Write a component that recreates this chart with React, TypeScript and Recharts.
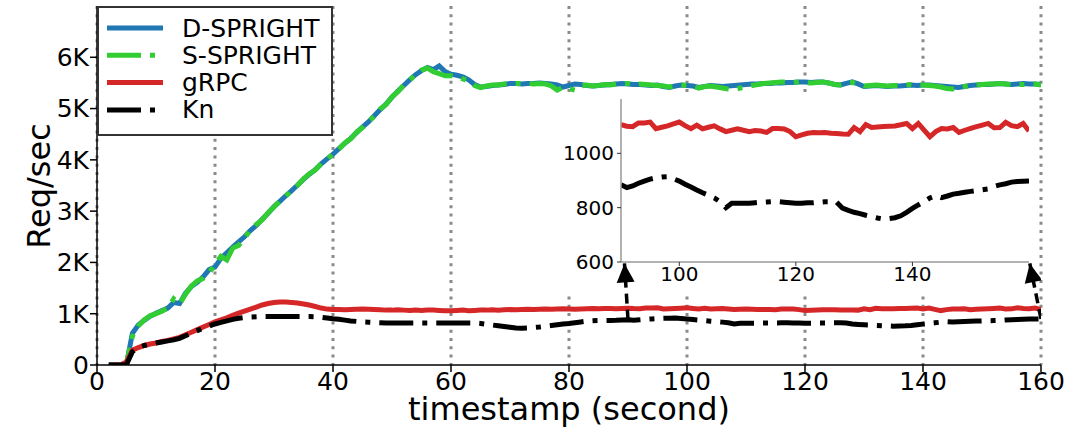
import { CartesianGrid, Legend, Line, LineChart, XAxis, YAxis } from "recharts";

const font = "'DejaVu Sans', sans-serif";
const dashDot = "34 9 5 9";

// request rate per second, t = 0..160
const dSpright = [
  null, null, 0, 0, 0, 20, 620, 780, 870, 950,
  1010, 1060, 1110, 1220, 1200, 1400, 1530, 1610, 1720, 1860,
  1910, 2080, 2190, 2300, 2400, 2500, 2620, 2720, 2840, 2960,
  3090, 3190, 3300, 3400, 3510, 3620, 3720, 3810, 3920, 4020,
  4110, 4220, 4320, 4420, 4530, 4640, 4740, 4860, 4980, 5090,
  5220, 5340, 5450, 5560, 5660, 5740, 5800, 5760, 5830, 5720,
  5670, 5650, 5620, 5560, 5470, 5420, 5430, 5450, 5460, 5470,
  5490, 5490, 5480, 5490, 5490, 5500, 5490, 5480, 5460, 5420,
  5450, 5480, 5470, 5450, 5440, 5450, 5460, 5470, 5480, 5490,
  5480, 5470, 5470, 5460, 5450, 5460, 5430, 5410, 5440, 5460,
  5450, 5440, 5410, 5430, 5450, 5440, 5430, 5440, 5450, 5460,
  5470, 5480, 5480, 5490, 5490, 5500, 5500, 5510, 5510, 5520,
  5520, 5510, 5520, 5520, 5500, 5470, 5460, 5490, 5520, 5480,
  5430, 5440, 5450, 5440, 5430, 5440, 5440, 5450, 5460, 5450,
  5460, 5460, 5450, 5440, 5430, 5420, 5410, 5430, 5450, 5460,
  5470, 5470, 5480, 5490, 5480, 5470, 5480, 5490, 5480, 5480, 5470,
];

const sSpright = [
  null, null, 0, 0, 0, 30, 560, 760, 880, 960,
  1000, 1050, 1110, 1290, 1190, 1380, 1540, 1640, 1690, 1800,
  1960, 2120, 2050, 2280, 2330, 2470, 2640, 2740, 2830, 2970,
  3080, 3200, 3290, 3410, 3500, 3630, 3730, 3800, 3930, 4010,
  4120, 4210, 4330, 4410, 4540, 4630, 4750, 4850, 4990, 5080,
  5230, 5330, 5460, 5550, 5670, 5750, 5790, 5720, 5680, 5640,
  5640, 5620, 5580, 5530, 5450, 5410, 5440, 5460, 5460, 5480,
  5490, 5490, 5490, 5490, 5480, 5490, 5480, 5440, 5360, 5420,
  5390, 5360, 5440, 5460, 5440, 5450, 5470, 5460, 5480, 5490,
  5490, 5460, 5480, 5470, 5460, 5450, 5440, 5420, 5440, 5460,
  5450, 5430, 5400, 5430, 5440, 5420, 5400, 5380, 5370, 5400,
  5420, 5450, 5470, 5490, 5500, 5510, 5520, 5520, 5510, 5520,
  5510, 5500, 5510, 5520, 5500, 5470, 5460, 5490, 5510, 5480,
  5440, 5450, 5460, 5450, 5440, 5450, 5450, 5460, 5470, 5460,
  5460, 5450, 5440, 5420, 5390, 5380, 5400, 5430, 5450, 5460,
  5470, 5480, 5480, 5490, 5480, 5460, 5470, 5470, 5480, 5480, 5460,
];

const grpc = [
  null, null, 0, 0, 0, 60, 290, 340, 380, 410,
  430, 460, 480, 510, 540, 590, 640, 690, 740, 790,
  840, 880, 920, 970, 1010, 1050, 1090, 1130, 1170, 1200,
  1220, 1230, 1230, 1220, 1210, 1190, 1170, 1140, 1110, 1090,
  1080, 1080, 1075, 1080, 1085, 1090, 1085, 1080, 1075, 1070,
  1070, 1075, 1070, 1065, 1070, 1065, 1070, 1070, 1065, 1060,
  1060, 1065, 1070, 1060, 1065, 1070, 1070, 1075, 1070, 1075,
  1080, 1075, 1080, 1085, 1080, 1085, 1090, 1085, 1090, 1095,
  1090, 1085, 1090, 1095, 1100, 1095, 1100, 1100, 1095, 1100,
  1106, 1100, 1098, 1112, 1112, 1115, 1091, 1096, 1101, 1108,
  1115, 1102, 1091, 1104, 1090, 1096, 1101, 1090, 1080, 1085,
  1090, 1085, 1080, 1084, 1082, 1077, 1091, 1091, 1090, 1080,
  1061, 1068, 1074, 1077, 1076, 1077, 1074, 1073, 1071, 1070,
  1095, 1080, 1106, 1095, 1097, 1099, 1100, 1101, 1105, 1110,
  1091, 1110, 1085, 1061, 1080, 1091, 1090, 1095, 1077, 1085,
  1092, 1098, 1104, 1110, 1094, 1095, 1114, 1102, 1098, 1110, 1082,
];

const kn = [
  null, null, 0, 0, 0, 10, 260, 340, 380, 410,
  430, 450, 470, 490, 520, 570, 620, 670, 720, 760,
  800, 830, 860, 890, 910, 925, 935, 940, 945, 945,
  945, 945, 945, 945, 945, 945, 945, 940, 930, 915,
  900, 890, 875, 860, 850, 840, 835, 830, 825, 820,
  820, 820, 820, 820, 820, 820, 820, 820, 820, 820,
  820, 820, 820, 820, 820, 810, 795, 780, 765, 750,
  735, 720, 715, 720, 730, 740, 755, 770, 785, 800,
  810, 825, 840, 855, 862, 866, 868, 870, 872, 878,
  884, 874, 880, 890, 898, 905, 910, 913, 914, 906,
  898, 886, 876, 865, 855, 846, 836, 822, 800, 816,
  816, 816, 816, 818, 820, 821, 822, 822, 820, 818,
  816, 816, 818, 818, 820, 822, 822, 820, 798, 790,
  783, 778, 772, 767, 762, 758, 760, 763, 770, 783,
  797, 810, 822, 836, 844, 837, 843, 850, 853, 857,
  860, 863, 866, 869, 878, 884, 888, 894, 896, 897, 898,
];

const xTicks = [0, 20, 40, 60, 80, 100, 120, 140, 160];
const yTicks = [0, 1000, 2000, 3000, 4000, 5000, 6000];
const insetXTicks = [100, 120, 140];
const insetYTicks = [600, 800, 1000];
const zoomStart = 90;
// arrows run from the Kn curve up to the inset's bottom corners
const arrowStarts = [90, 160];
const arrowTips = [
  { t: 89.4, v: 1980 },
  { t: 158.1, v: 1980 },
];

const rows = dSpright.map((v, t) => ({
  t,
  dSpright: v,
  sSpright: sSpright[t],
  grpc: grpc[t],
  kn: kn[t],
}));
const insetRows = rows.filter((r) => r.t >= zoomStart);
const arrows = arrowStarts.map((t, i) => [{ t, v: kn[t] as number }, arrowTips[i]]);

const series = [
  { key: "dSpright", name: "D-SPRIGHT", color: "#1f77b4", dash: undefined },
  { key: "sSpright", name: "S-SPRIGHT", color: "#32cd32", dash: dashDot },
  { key: "grpc", name: "gRPC", color: "#d62728", dash: undefined },
  { key: "kn", name: "Kn", color: "#000000", dash: dashDot },
];

const kLabel = (v: number) => (v === 0 ? "0" : `${v / 1000}K`);

function LegendBox() {
  return (
    <svg width={236} height={130} style={{ display: "block" }}>
      <rect x={1} y={1} width={234} height={128} fill="#fff" stroke="#333" strokeWidth={2} />
      {series.map((s, i) => {
        const y = 22 + i * 27.3;
        return (
          <g key={s.key}>
            <line x1={10} x2={66} y1={y} y2={y} stroke={s.color} strokeWidth={5} strokeDasharray={s.dash} />
            <text x={85} y={y} dominantBaseline="central" fontSize={25} fontFamily={font} fill="#000">
              {s.name}
            </text>
          </g>
        );
      })}
    </svg>
  );
}

// filled triangle drawn on the last point of an arrow series
function ArrowHead(props: any) {
  const { cx, cy, index, points } = props;
  if (index !== 1 || cx == null || cy == null) return <g key={`n${index}`} />;
  const from = points && points[0] ? points[0] : { x: cx, y: cy + 20 };
  const len = Math.hypot(cx - from.x, cy - from.y) || 1;
  const ux = (cx - from.x) / len;
  const uy = (cy - from.y) / len;
  const bx = cx - ux * 19;
  const by = cy - uy * 19;
  return (
    <polygon
      key={`h${index}`}
      points={`${cx},${cy} ${bx - uy * 9},${by + ux * 9} ${bx + uy * 9},${by - ux * 9}`}
      fill="#000"
    />
  );
}

const xLabel = () => (
  <text x={569} y={420} textAnchor="middle" fontSize={32} fontFamily={font} fill="#000">
    timestamp (second)
  </text>
);

const yLabel = () => (
  <text
    x={39}
    y={186}
    transform="rotate(-90 39 186)"
    textAnchor="middle"
    dominantBaseline="central"
    fontSize={32}
    fontFamily={font}
    fill="#000"
  >
    Req/sec
  </text>
);

const tickStyle = { fill: "#000", fontSize: 25, fontFamily: font };
const insetTick = { fill: "#000", fontSize: 20, fontFamily: font };

export default function App() {
  return (
    <div
      style={{
        position: "absolute",
        left: 0,
        top: 0,
        width: 1074,
        height: 427,
        background: "#fff",
        fontFamily: font,
      }}
    >
      <div style={{ position: "absolute", left: 0, top: 0 }}>
        <LineChart width={1074} height={427} data={rows} margin={{ top: 6, right: 33, left: 0, bottom: 0 }}>
          <CartesianGrid horizontal={false} stroke="#8a8a8a" strokeWidth={3} strokeDasharray="3 5.3" />
          <XAxis
            type="number"
            dataKey="t"
            domain={[0, 160]}
            ticks={xTicks}
            allowDataOverflow
            height={62}
            tickSize={7}
            tickMargin={0}
            tick={tickStyle}
            axisLine={{ stroke: "#000", strokeWidth: 1.5 }}
            tickLine={{ stroke: "#000", strokeWidth: 1.5 }}
            label={xLabel}
          />
          <XAxis
            xAxisId="top"
            orientation="top"
            type="number"
            domain={[0, 160]}
            height={0}
            tick={false}
            tickLine={false}
            axisLine={{ stroke: "#000", strokeWidth: 1.5 }}
          />
          <YAxis
            domain={[0, 7000]}
            ticks={yTicks}
            allowDataOverflow
            width={97}
            tickSize={7}
            tickMargin={1}
            tick={tickStyle}
            tickFormatter={kLabel}
            axisLine={{ stroke: "#000", strokeWidth: 1.5 }}
            tickLine={{ stroke: "#000", strokeWidth: 1.5 }}
            label={yLabel}
          />
          <YAxis
            yAxisId="right"
            orientation="right"
            width={0}
            tick={false}
            tickLine={false}
            axisLine={{ stroke: "#000", strokeWidth: 1.5 }}
          />
          <Legend
            content={LegendBox}
            layout="vertical"
            align="center"
            verticalAlign="middle"
            wrapperStyle={{ left: 97, top: 6, width: 236, height: 130 }}
          />
          {series.map((s) => (
            <Line
              key={s.key}
              dataKey={s.key}
              name={s.name}
              stroke={s.color}
              strokeWidth={5}
              strokeDasharray={s.dash}
              dot={false}
              activeDot={false}
              isAnimationActive={false}
            />
          ))}
        </LineChart>
      </div>

      <div style={{ position: "absolute", left: 545, top: 96, width: 492, height: 196, background: "#fff" }}>
        <LineChart width={492} height={196} data={insetRows} margin={{ top: 3, right: 8, left: 0, bottom: 0 }}>
          <XAxis
            type="number"
            dataKey="t"
            domain={[90, 160]}
            ticks={insetXTicks}
            allowDataOverflow
            height={30}
            tickSize={4}
            tickMargin={1}
            tick={insetTick}
            axisLine={{ stroke: "#999", strokeWidth: 1.5 }}
            tickLine={{ stroke: "#333" }}
          />
          <XAxis
            xAxisId="top"
            orientation="top"
            type="number"
            domain={[90, 160]}
            height={0}
            tick={false}
            tickLine={false}
            axisLine={{ stroke: "#999", strokeWidth: 1.5 }}
          />
          <YAxis
            domain={[600, 1200]}
            ticks={insetYTicks}
            allowDataOverflow
            width={76}
            tickSize={4}
            tickMargin={3}
            tick={insetTick}
            axisLine={{ stroke: "#999", strokeWidth: 1.5 }}
            tickLine={{ stroke: "#333" }}
          />
          <YAxis
            yAxisId="right"
            orientation="right"
            width={0}
            tick={false}
            tickLine={false}
            axisLine={{ stroke: "#999", strokeWidth: 1.5 }}
          />
          <Line dataKey="grpc" stroke="#d62728" strokeWidth={5} dot={false} activeDot={false} isAnimationActive={false} />
          <Line
            dataKey="kn"
            stroke="#000"
            strokeWidth={5}
            strokeDasharray={dashDot}
            dot={false}
            activeDot={false}
            isAnimationActive={false}
          />
        </LineChart>
      </div>

      <div style={{ position: "absolute", left: 0, top: 0, pointerEvents: "none" }}>
        <LineChart width={1074} height={427} margin={{ top: 6, right: 33, left: 97, bottom: 62 }}>
          <XAxis type="number" dataKey="t" domain={[0, 160]} allowDataOverflow hide />
          <YAxis domain={[0, 7000]} allowDataOverflow hide />
          {arrows.map((pts, i) => (
            <Line
              key={i}
              data={pts}
              dataKey="v"
              stroke="#000"
              strokeWidth={3.5}
              strokeDasharray="10 6"
              dot={ArrowHead}
              activeDot={false}
              isAnimationActive={false}
            />
          ))}
        </LineChart>
      </div>
    </div>
  );
}
